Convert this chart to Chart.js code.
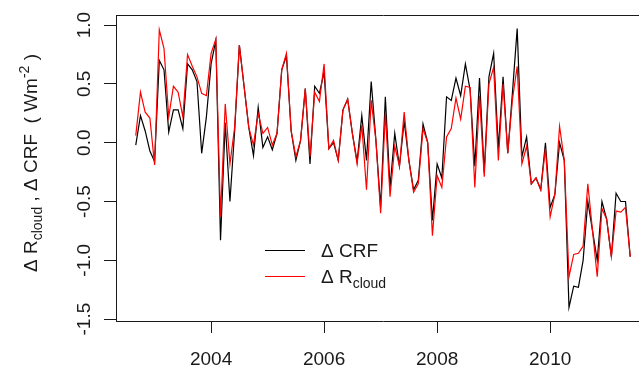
<!DOCTYPE html>
<html>
<head>
<meta charset="utf-8">
<script src="https://cdn.jsdelivr.net/npm/chart.js@4/dist/chart.umd.min.js"></script>
<style>
  html, body { margin: 0; padding: 0; background: #fff; overflow: hidden; }
  #wrap { width: 660px; height: 376px; }
</style>
</head>
<body>
<div id="wrap"><canvas id="c" width="660" height="376"></canvas></div>
<script>
// Monthly series, first month = September 2002
const startYear = 2002;
const startMonth = 9;
const crfValues = [
  -0.02, 0.23, 0.10, -0.07, -0.16, 0.70, 0.62, 0.09, 0.28, 0.28,
  0.12, 0.67, 0.62, 0.52, -0.09, 0.22, 0.67, 0.87, -0.83, 0.17,
  -0.50, 0.10, 0.83, 0.48, 0.13, -0.11, 0.30, -0.04, 0.05, -0.06,
  0.08, 0.62, 0.74, 0.10, -0.15, 0.02, 0.46, -0.18, 0.48, 0.42,
  0.60, -0.05, 0.00, -0.15, 0.28, 0.37, 0.08, -0.16, 0.23, -0.15,
  0.52, 0.02, -0.55, 0.39, -0.38, 0.08, -0.20, 0.18, -0.15, -0.40,
  -0.32, 0.16, 0.00, -0.66, -0.18, -0.30, 0.39, 0.36, 0.55, 0.40,
  0.67, 0.45, -0.20, 0.55, -0.25, 0.56, 0.76, -0.05, 0.56, -0.09,
  0.43, 0.97, -0.12, 0.05, -0.35, -0.30, -0.40, 0.00, -0.55, -0.44,
  0.00, -0.15, -1.40, -1.22, -1.23, -1.00, -0.50, -0.75, -1.00, -0.50,
  -0.65, -0.97, -0.43, -0.50, -0.50, -0.97
];
const rcloudValues = [
  0.06, 0.43, 0.26, 0.21, -0.19, 0.96, 0.80, 0.22, 0.48, 0.43,
  0.22, 0.75, 0.65, 0.56, 0.42, 0.40, 0.76, 0.88, -0.63, 0.33,
  -0.18, 0.13, 0.83, 0.48, 0.13, -0.02, 0.25, 0.08, 0.13, -0.02,
  0.08, 0.62, 0.76, 0.10, -0.12, 0.02, 0.46, -0.12, 0.43, 0.35,
  0.67, -0.05, 0.02, -0.15, 0.28, 0.37, 0.08, -0.18, 0.15, -0.40,
  0.36, 0.02, -0.60, 0.25, -0.46, -0.03, -0.20, 0.26, -0.15, -0.42,
  -0.35, 0.12, 0.00, -0.79, -0.28, -0.38, 0.05, 0.12, 0.38, 0.20,
  0.48, 0.47, -0.38, 0.40, -0.29, 0.50, 0.64, -0.15, 0.50, -0.09,
  0.37, 0.65, -0.18, -0.03, -0.35, -0.30, -0.40, -0.05, -0.63, -0.44,
  0.14, -0.15, -1.14, -0.95, -0.94, -0.88, -0.35, -0.75, -1.14, -0.56,
  -0.65, -0.97, -0.58, -0.59, -0.55, -0.97
];
const xTickYears = [2004, 2006, 2008, 2010];
const yTickValues = [-1.5, -1.0, -0.5, 0.0, 0.5, 1.0];
const legendLabels = ['\u0394 CRF', '\u0394 R'];

// decimal-year time axis for each month
const times = crfValues.map((_, i) => startYear + (startMonth - 1 + i) / 12);
const toPts = vals => vals.map((v, i) => ({ x: times[i], y: v }));

const FONT = '"Liberation Sans", Arial, sans-serif';
const INK = '#1a1a1a';

const boxPlugin = {
  id: 'box',
  afterDraw(chart) {
    const { ctx, chartArea: a } = chart;
    ctx.save();
    ctx.strokeStyle = INK;
    ctx.lineWidth = 1;
    ctx.beginPath();
    ctx.moveTo(Math.round(a.left) + 0.5, Math.round(a.bottom) + 0.5);
    ctx.lineTo(Math.round(a.left) + 0.5, Math.round(a.top) + 0.5);
    ctx.lineTo(Math.round(a.right) + 0.5, Math.round(a.top) + 0.5);
    ctx.lineTo(Math.round(a.right) + 0.5, Math.round(a.bottom) + 0.5);
    ctx.stroke();
    ctx.restore();
  }
};

const titlePlugin = {
  id: 'ytitle',
  afterDraw(chart) {
    const { ctx } = chart;
    const main = '19px ' + FONT, small = '14px ' + FONT;
    const parts = [
      { t: '\u0394 R', f: main, dy: 0 },
      { t: 'cloud', f: small, dy: 5 },
      { t: ' , \u0394 CRF  ( Wm', f: main, dy: 0 },
      { t: '-2', f: small, dy: -8 },
      { t: ' )', f: main, dy: 0 }
    ];
    ctx.save();
    let total = 0;
    parts.forEach(p => { ctx.font = p.f; p.w = ctx.measureText(p.t).width; total += p.w; });
    ctx.translate(37, 163);
    ctx.rotate(-Math.PI / 2);
    ctx.fillStyle = INK;
    ctx.textBaseline = 'alphabetic';
    let x = -total / 2;
    parts.forEach(p => { ctx.font = p.f; ctx.fillText(p.t, x, p.dy); x += p.w; });
    ctx.restore();
  }
};

const legendPlugin = {
  id: 'rlegend',
  afterDraw(chart) {
    const { ctx } = chart;
    const ds = chart.data.datasets;
    ctx.save();
    const rows = [
      { y: 250, color: ds[0].borderColor, text: legendLabels[0], sub: null },
      { y: 276, color: ds[1].borderColor, text: legendLabels[1], sub: 'cloud' }
    ];
    rows.forEach(r => {
      ctx.strokeStyle = r.color;
      ctx.lineWidth = 1.2;
      ctx.beginPath();
      ctx.moveTo(265, r.y + 0.5);
      ctx.lineTo(305, r.y + 0.5);
      ctx.stroke();
      ctx.fillStyle = INK;
      ctx.font = '19px ' + FONT;
      ctx.textBaseline = 'alphabetic';
      ctx.fillText(r.text, 321, r.y + 7);
      if (r.sub) {
        const w = ctx.measureText(r.text).width;
        ctx.font = '14px ' + FONT;
        ctx.fillText(r.sub, 321 + w, r.y + 12);
      }
    });
    ctx.restore();
  }
};

new Chart(document.getElementById('c'), {
  type: 'line',
  data: {
    datasets: [
      { label: 'CRF', data: toPts(crfValues), borderColor: '#000000', borderWidth: 1.2, pointRadius: 0, tension: 0, order: 1 },
      { label: 'Rcloud', data: toPts(rcloudValues), borderColor: '#ff0000', borderWidth: 1.2, pointRadius: 0, tension: 0, order: 0 }
    ]
  },
  options: {
    responsive: false,
    animation: false,
    devicePixelRatio: 1,
    layout: { padding: { top: 15, right: 10, left: 0, bottom: 0 } },
    plugins: { legend: { display: false }, tooltip: { enabled: false } },
    scales: {
      x: {
        type: 'linear',
        min: 2002.317, max: 2011.767,
        afterBuildTicks: s => { s.ticks = xTickYears.map(v => ({ value: v })); },
        afterFit: s => { s.height = 55; },
        ticks: { callback: v => String(v), color: INK, font: { family: FONT, size: 19 }, padding: 15, maxRotation: 0, autoSkip: false },
        grid: { display: true, drawOnChartArea: false, drawTicks: true, tickLength: 12, color: INK, lineWidth: 1 },
        border: { display: true, color: INK, width: 1 }
      },
      y: {
        type: 'linear',
        min: -1.516, max: 1.086,
        afterBuildTicks: s => { s.ticks = yTickValues.map(v => ({ value: v })); },
        afterFit: s => { s.width = 116; },
        ticks: { callback: v => v.toFixed(1), color: INK, font: { family: FONT, size: 19 }, padding: 3, minRotation: 90, maxRotation: 90, crossAlign: 'center', autoSkip: false },
        grid: { display: true, drawOnChartArea: false, drawTicks: true, tickLength: 12, color: INK, lineWidth: 1 },
        border: { display: true, color: INK, width: 1 }
      }
    }
  },
  plugins: [boxPlugin, titlePlugin, legendPlugin]
});
</script>
</body>
</html>
